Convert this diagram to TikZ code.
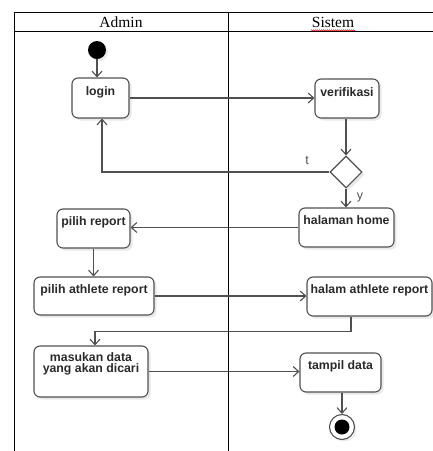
\documentclass[tikz,border=0pt]{standalone}
\usepackage{fontspec}
\setmainfont{Liberation Sans}
\newfontfamily\headfont{Liberation Serif}
\usetikzlibrary{arrows.meta,shapes.geometric,shadows,decorations.pathmorphing}
\definecolor{linegray}{HTML}{505050}
\definecolor{textgray}{HTML}{2a2a2a}
\tikzset{
  lane/.style={draw=black, line width=0.8pt},
  act/.style={draw=linegray, line width=1.1pt, fill=white, rounded corners=6pt,
    inner sep=0pt, drop shadow={opacity=0.18, shadow xshift=2.5pt, shadow yshift=-2.5pt}},
  acttext/.style={anchor=base, inner sep=0pt, text=textgray,
    font=\bfseries\fontsize{12.3}{11}\selectfont, align=center},
  flow/.style={draw=linegray, line width=1.1pt,
    -{Straight Barb[length=5.5pt,width=10pt,line width=1.1pt]}},
  guard/.style={text=linegray, font=\fontsize{12.5}{12.5}\selectfont, inner sep=0pt},
  head/.style={font=\headfont\fontsize{15.5}{16}\selectfont, inner sep=0pt}
}
\begin{document}
\begin{tikzpicture}[x=1pt, y=-1pt]
\useasboundingbox (0,0) rectangle (433,451);

% swimlane frame
\draw[lane] (14,12) -- (433,12);
\draw[lane] (14,31) -- (433,31);
\draw[lane] (14,12) -- (14,451);
\draw[lane] (228,12) -- (228,451);
\node[head] (hadmin) at (121,22) {Admin};
\node[head] (hsistem) at (333,22) {Sistem};
\draw[red, line width=0.4pt, decorate, decoration={zigzag, segment length=2pt, amplitude=0.6pt}]
  (311,30.3) -- (355,30.3);

% start and end
\node[circle, fill=black, minimum size=18pt, inner sep=0pt,
  drop shadow={opacity=0.15, shadow xshift=2pt, shadow yshift=-2pt}] (start) at (97,50) {};
\node[circle, draw=linegray, line width=1.1pt, fill=white, minimum size=25pt, inner sep=0pt,
  drop shadow={opacity=0.15, shadow xshift=2pt, shadow yshift=-2pt}] (endc) at (342,427) {};
\node[circle, fill=black, minimum size=15pt, inner sep=0pt] (endin) at (endc) {};

% activities
\node[act, minimum width=57pt, minimum height=40pt] (login) at (100.5,98) {};
\node[act, minimum width=64pt, minimum height=39pt] (verif) at (347,98.5) {};
\node[diamond, draw=linegray, line width=1.1pt, fill=white, minimum width=32pt, minimum height=32pt,
  inner sep=0pt, drop shadow={opacity=0.18, shadow xshift=2.5pt, shadow yshift=-2.5pt}] (dec) at (346,172) {};
\node[act, minimum width=73pt, minimum height=39pt] (pilih) at (93.5,228.5) {};
\node[act, minimum width=95pt, minimum height=39pt] (home) at (346.5,227.5) {};
\node[act, minimum width=120pt, minimum height=38pt] (athlete) at (94,296) {};
\node[act, minimum width=125pt, minimum height=39pt] (halam) at (369.5,296.5) {};
\node[act, minimum width=114pt, minimum height=51pt] (masukan) at (91,371.5) {};
\node[act, minimum width=81pt, minimum height=39pt] (tampil) at (340.5,372.5) {};

% activity captions
\node[acttext] (tlogin) at ([yshift=-18pt]login.north) {login};
\node[acttext] (tverif) at ([yshift=-18pt]verif.north) {verifikasi};
\node[acttext] (tpilih) at ([yshift=-17pt]pilih.north) {pilih report};
\node[acttext] (thome) at ([yshift=-17pt]home.north) {halaman home};
\node[acttext] (tathlete) at ([yshift=-17pt]athlete.north) {pilih athlete report};
\node[acttext] (thalam) at ([yshift=-17pt]halam.north) {halam athlete report};
\node[acttext, anchor=north] (tmasukan) at ([yshift=-6.5pt]masukan.north) {masukan data\\yang akan dicari};
\node[acttext] (ttampil) at ([yshift=-17pt]tampil.north) {tampil data};

% control flow
\draw[flow] (start.south) -- (start.south |- login.north);
\draw[flow] (login.east) -- (login.east -| verif.west);
\draw[flow] (dec.north |- verif.south) -- (dec.north);
\draw[flow] (dec.west) -| ([xshift=1.5pt]login.south);
\node[guard] (gt) at (307,161) {t};
\draw[flow] (dec.south) -- (dec.south |- home.north);
\node[guard] (gy) at (360,197) {y};
\draw[flow] (home.west) -- (home.west -| pilih.east);
\draw[flow] (pilih.south) -- (pilih.south |- athlete.north);
\draw[flow] (athlete.east) -- (athlete.east -| halam.west);
\draw[flow] ([xshift=-18.5pt]halam.south) -- ++(0,15) -| ([xshift=4pt]masukan.north);
\draw[flow] (masukan.east) -- (masukan.east -| tampil.west);
\draw[flow] (endc.north |- tampil.south) -- (endc.north);
\end{tikzpicture}
\end{document}
